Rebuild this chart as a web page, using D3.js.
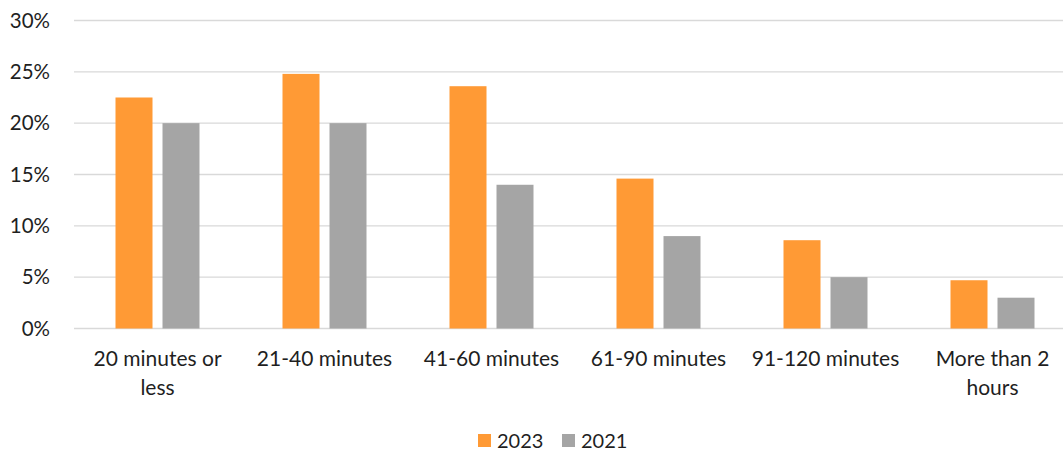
<!DOCTYPE html>
<html>
<head>
<meta charset="utf-8">
<script src="https://cdn.jsdelivr.net/npm/d3@7"></script>
<style>
  html, body { margin: 0; padding: 0; background: #fff; }
  svg text { font-family: Lato, "Liberation Sans", sans-serif; fill: #1f1f1f; }
</style>
</head>
<body>
<svg id="chart" width="1063" height="453"></svg>
<script>
// Commute time buckets and share of respondents per survey year
const categories = ["20 minutes or|less", "21-40 minutes", "41-60 minutes", "61-90 minutes", "91-120 minutes", "More than 2|hours"];
const seriesNames = ["2023", "2021"];
const values2023 = [22.5, 24.8, 23.6, 14.6, 8.6, 4.7];
const values2021 = [20, 20, 14, 9, 5, 3];
const yTicks = [0, 5, 10, 15, 20, 25, 30];
const colors = ["#FF9A35", "#A5A5A5"];

const svg = d3.select("#chart");
const plot = { left: 74, right: 1076, top: 20.5, bottom: 328.5 };

const x = d3.scaleBand().domain(categories).range([plot.left, plot.right]).paddingInner(0).paddingOuter(0);
const y = d3.scaleLinear().domain([0, 30]).range([plot.bottom, plot.top]);
const xSeries = d3.scaleBand().domain(seriesNames).range([0, 84]).paddingInner(10 / 47);

// gridlines
svg.append("g")
  .selectAll("line")
  .data(yTicks)
  .join("line")
  .attr("x1", plot.left).attr("x2", plot.right)
  .attr("y1", d => y(d)).attr("y2", d => y(d))
  .attr("stroke", "#D9D9D9").attr("stroke-width", 1.3);

// y axis labels
const yAxis = d3.axisLeft(y).tickValues(yTicks).tickFormat(d => d + "%").tickSize(0).tickPadding(0);
const yg = svg.append("g").attr("transform", `translate(50,0)`).call(yAxis);
yg.select(".domain").remove();
yg.selectAll("text").attr("font-size", 20.5).attr("font-family", "Lato, 'Liberation Sans', sans-serif").attr("fill", "#1f1f1f");

// bars
const rows = categories.map((c, i) => ({ cat: c, vals: [values2023[i], values2021[i]] }));
const groups = svg.append("g").selectAll("g")
  .data(rows)
  .join("g")
  .attr("transform", d => `translate(${x(d.cat) + x.bandwidth() / 2 - 42},0)`);
groups.selectAll("rect")
  .data(d => d.vals.map((v, j) => ({ name: seriesNames[j], v, j })))
  .join("rect")
  .attr("x", d => xSeries(d.name))
  .attr("width", xSeries.bandwidth())
  .attr("y", d => y(d.v))
  .attr("height", d => y(0) - y(d.v))
  .attr("fill", d => colors[d.j]);

// category labels
const xg = svg.append("g");
categories.forEach(c => {
  const lines = c.split("|");
  const t = xg.append("text")
    .attr("x", x(c) + x.bandwidth() / 2)
    .attr("y", 366)
    .attr("text-anchor", "middle")
    .attr("font-size", 21);
  lines.forEach((ln, k) => {
    t.append("tspan").attr("x", x(c) + x.bandwidth() / 2).attr("dy", k === 0 ? 0 : 28.5).text(ln);
  });
});

// legend
const legendX = [478, 562];
const lg = svg.append("g");
seriesNames.forEach((s, i) => {
  lg.append("rect").attr("x", legendX[i]).attr("y", 434).attr("width", 13).attr("height", 13).attr("fill", colors[i]);
  lg.append("text").attr("x", legendX[i] + 19).attr("y", 448).attr("font-size", 20).text(s);
});
</script>
</body>
</html>
